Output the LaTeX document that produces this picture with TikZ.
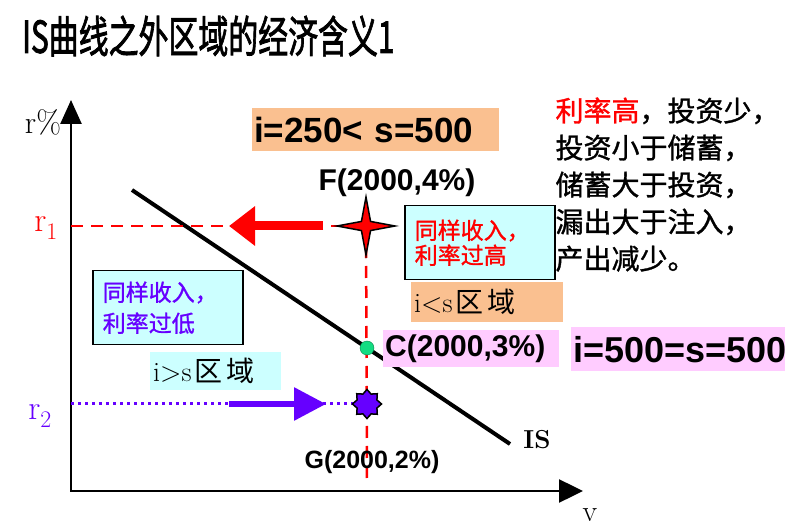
\documentclass[tikz,border=0pt]{standalone}
\usepackage{fontspec}
\newfontfamily\cjk{Noto Sans CJK SC}[FakeBold=1.2]
\newfontfamily\cjkthin{Noto Sans CJK SC}
\newfontfamily\cjktitle{Noto Sans CJK SC}[FakeBold=2]
\newfontfamily\arial{Liberation Sans}
\usetikzlibrary{arrows.meta,shapes.geometric,positioning}
\definecolor{peach}{RGB}{250,192,144}
\definecolor{pinkbg}{RGB}{255,204,255}
\definecolor{cyanbg}{RGB}{204,255,255}
\definecolor{ispurple}{RGB}{102,0,255}
\definecolor{ptgreen}{RGB}{20,220,130}
\begin{document}
\begin{tikzpicture}[x=1pt,y=-1pt,
  reddash/.style={red,line width=2.5pt,dash pattern=on 12pt off 8pt},
  purpdot/.style={ispurple,line width=3pt,dash pattern=on 3pt off 4pt},
  pointlab/.style={font=\arial\bfseries\fontsize{30}{32}\selectfont},
  notebox/.style={draw=black,line width=1.5pt,fill=cyanbg,anchor=north west,align=left,
    inner xsep=10pt,minimum width=150pt,minimum height=74pt,text width=130pt},
  zonebox/.style={anchor=north west,inner xsep=3pt,inner ysep=1pt,align=left,
    font=\fontsize{28}{30}\selectfont},
  eqbox/.style={anchor=north west,inner xsep=2pt,inner ysep=1pt,align=left,
    font=\arial\bfseries}
]
\useasboundingbox (0,0) rectangle (785,521);
% title
\node[anchor=west,inner sep=0pt] (title) at (22,36)
  {\scalebox{0.68}[1]{\cjktitle\fontsize{44}{48}\selectfont IS曲线之外区域的经济含义1}};
% axes
\coordinate (O) at (71,491);
\coordinate (ytop) at (71,100);
\coordinate (xend) at (583,491);
\draw[line width=2.5pt,{Triangle[length=24pt,width=21pt]}-{Triangle[length=24pt,width=23pt]}]
  (ytop) -- (O) -- (xend);
\node[font=\fontsize{32}{34}\selectfont] (rlab) at (43,122) {r\%};
\node[anchor=base,font=\fontsize{30}{32}\selectfont] (ylab) at (590,521) {y};
\node[red,font=\fontsize{34}{36}\selectfont] (r1lab) at (46,228) {r\textsubscript{1}};
\node[ispurple,font=\fontsize{34}{36}\selectfont] (r2lab) at (40,416) {r\textsubscript{2}};
% points
\coordinate (fpt) at (366,226);
\coordinate (cpt) at (367,348);
\coordinate (gpt) at (367,404);
\coordinate (vbot) at (367,483);
\coordinate (r1pt) at (71,226);
\coordinate (r2pt) at (71,404);
% IS curve
\coordinate (is1) at (132,190);
\coordinate (is2) at (510,444);
\draw[line width=4pt] (is1) -- (is2);
\node[font=\bfseries\fontsize{26}{28}\selectfont] (islab) at (537,440) {IS};
% guide lines
\draw[reddash] (r1pt) -- (fpt);
\draw[reddash] (fpt) -- (vbot);
\draw[purpdot] (r2pt) -- (gpt);
% thick arrows
\coordinate (rstart) at (323,226);
\coordinate (rend) at (229,226);
\draw[red,line width=9pt,-{Triangle[length=26pt,width=38pt]}] (rstart) -- (rend);
\coordinate (pstart) at (229,404);
\coordinate (pend) at (326,404);
\draw[ispurple,line width=6pt,-{Triangle[length=32pt,width=32pt]}] (pstart) -- (pend);
% marks
\node[star,star points=4,star point ratio=4.5,minimum size=58pt,inner sep=0pt,
  draw=black,line width=1.5pt,fill=red] (F) at (fpt) {};
\node[circle,minimum size=14pt,inner sep=0pt,draw=ptgreen!60!black,fill=ptgreen] (C) at (cpt) {};
\node[star,star points=8,star point ratio=1.35,minimum size=29pt,inner sep=0pt,
  draw=black,line width=1.5pt,fill=ispurple] (G) at (gpt) {};
\node[pointlab] (Flab) at (397,183) {F(2000,4\%)};
\node[pointlab,font=\arial\bfseries\fontsize{25}{27}\selectfont] (Glab) at (372,462) {G(2000,2\%)};
% boxes
\node[eqbox,fill=peach,minimum width=247pt,minimum height=43pt,text width=243pt,
  font=\arial\bfseries\fontsize{35}{37}\selectfont] (eqlow) at (252,108) {i=250< s=500};
\node[eqbox,fill=pinkbg,minimum width=176pt,minimum height=37pt,text width=172pt,
  font=\arial\bfseries\fontsize{30}{32}\selectfont] (Clab) at (383,330) {C(2000,3\%)};
\node[eqbox,fill=pinkbg,minimum width=214pt,minimum height=44pt,text width=210pt,
  font=\arial\bfseries\fontsize{36}{38}\selectfont] (eqmid) at (571,327) {i=500=s=500};
\node[notebox,text=red,font=\cjk\fontsize{23}{25}\selectfont] (high) at (404,205) {同样收入，\\利率过高};
\node[notebox,text=ispurple,font=\cjk\fontsize{23}{31}\selectfont] (low) at (92,270) {同样收入，\\利率过低};
\node[zonebox,fill=peach,minimum width=152pt,minimum height=40pt,text width=146pt] (zhigh) at (411,282)
  {i<s\hspace{3pt}{\cjkthin 区}\hspace{4pt}{\cjkthin 域}};
\node[zonebox,fill=cyanbg,minimum width=131pt,minimum height=38pt,text width=125pt] (zlow) at (150,352)
  {i>s\hspace{3pt}{\cjkthin 区}\hspace{4pt}{\cjkthin 域}};
% right note
\node[anchor=north west,align=left,font=\cjk\fontsize{28}{37}\selectfont] (note) at (552,94)
  {\textcolor{red}{利率高}，投资少，\\投资小于储蓄，\\储蓄大于投资，\\漏出大于注入，\\产出减少。};
\end{tikzpicture}
\end{document}
